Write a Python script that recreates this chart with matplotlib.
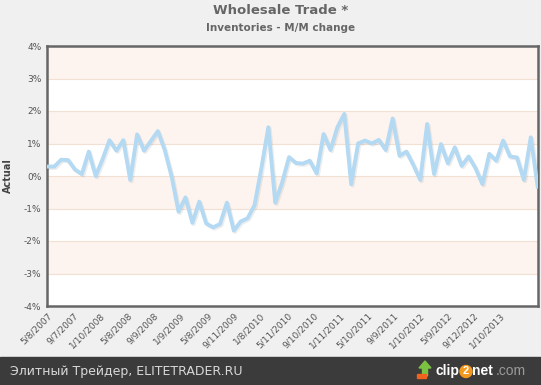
import numpy as np
import matplotlib
matplotlib.use("Agg")
import matplotlib.pyplot as plt
import matplotlib.patheffects as pe
from matplotlib.patches import Ellipse, FancyArrow, Rectangle

# monthly change of inventories, %
values = [0.29, 0.29, 0.50, 0.49, 0.20, 0.06, 0.75, 0.00, 0.52, 1.10,
          0.78, 1.10, -0.12, 1.28, 0.78, 1.08, 1.38, 0.80, -0.02, -1.10,
          -0.66, -1.44, -0.79, -1.46, -1.58, -1.48, -0.82, -1.68, -1.40, -1.30,
          -0.90, 0.25, 1.50, -0.82, -0.20, 0.58, 0.40, 0.38, 0.47, 0.08,
          1.29, 0.80, 1.50, 1.91, -0.25, 1.00, 1.09, 1.00, 1.11, 0.80,
          1.77, 0.62, 0.75, 0.34, -0.12, 1.60, 0.06, 0.98, 0.39, 0.88,
          0.31, 0.60, 0.24, -0.25, 0.68, 0.47, 1.09, 0.60, 0.57, -0.12,
          1.19, -0.33]

date_labels = ["5/8/2007", "9/7/2007", "1/10/2008", "5/8/2008", "9/9/2008",
               "1/9/2009", "5/8/2009", "9/11/2009", "1/8/2010", "5/11/2010",
               "9/10/2010", "1/11/2011", "5/10/2011", "9/9/2011", "1/10/2012",
               "5/9/2012", "9/12/2012", "1/10/2013"]

y_ticks = [4, 3, 2, 1, 0, -1, -2, -3, -4]

W, H = 541, 385
fig = plt.figure(figsize=(W / 100, H / 100), dpi=100)
fig.patch.set_facecolor("#f0f0f0")

ax = fig.add_axes([47 / W, (H - 306) / H, 491 / W, 260 / H])
x = np.arange(len(values))

# alternating bands, pink on top
for lo in range(-4, 4):
    color = "#fdf4ef" if lo % 2 != 0 else "white"
    ax.axhspan(lo, lo + 1, color=color, zorder=0, lw=0)
for t in y_ticks[1:-1]:
    ax.axhline(t, color="#f2e0d2", lw=0.8, zorder=1)

ax.plot(x, values, color="#b3d9f3", lw=2.8, solid_joinstyle="round", zorder=3,
        path_effects=[pe.SimpleLineShadow(offset=(1, -1), alpha=0.1, shadow_color="#555555"),
                      pe.Normal()])

ax.set_xlim(-0.05, len(values) - 1 + 0.05)
ax.set_ylim(-4, 4)
ax.set_yticks(y_ticks)
ax.set_yticklabels([f"{t}%" for t in y_ticks], fontsize=6.5, color="#555555")
ax.tick_params(axis="both", length=0, pad=4)

# label positions along the axis, as the original spaces them
tick_pos = np.linspace(0, 65.6, len(date_labels))
ax.set_xticks(tick_pos)
ax.set_xticklabels(date_labels, rotation=45, ha="right", rotation_mode="anchor",
                   fontsize=6.5, color="#555555")

for s in ax.spines.values():
    s.set_color("#666666")
    s.set_linewidth(1.8)

ax.set_ylabel("Actual", fontsize=7, fontweight="bold", color="#444444", labelpad=8)

fig.text(281 / W, 1 - 11 / H, "Wholesale Trade *", ha="center", va="center",
         fontsize=9.5, fontweight="bold", color="#666666")
fig.text(281 / W, 1 - 28 / H, "Inventories - M/M change", ha="center", va="center",
         fontsize=7.5, fontweight="bold", color="#666666")

# bottom banner
fig.patches.append(Rectangle((0, 0), 1, 28 / H, transform=fig.transFigure,
                             color="#3b3b3b", zorder=0))
fig.text(10 / W, 14 / H, "Элитный Трейдер, ELITETRADER.RU", ha="left", va="center",
         fontsize=9, color="#d8d8d8")

# clip2net logo
fig.patches.append(FancyArrow(425 / W, 9 / H, 0, 8 / H, width=5 / W, head_width=12 / W,
                              head_length=7 / H, transform=fig.transFigure,
                              color="#7cc242", zorder=2))
fig.patches.append(Rectangle((417 / W, 7 / H), 9 / W, 4 / H, transform=fig.transFigure,
                             color="#f0621e", zorder=3))
fig.text(436 / W, 14 / H, "clip", ha="left", va="center", fontsize=10,
         fontweight="bold", color="white", family="Liberation Sans")
fig.patches.append(Ellipse((466 / W, 13.5 / H), 12 / W, 12 / H, transform=fig.transFigure,
                           color="#f39a1e", zorder=2))
fig.text(466 / W, 13.5 / H, "2", ha="center", va="center", fontsize=8,
         fontweight="bold", color="white", zorder=3, family="Liberation Sans")
fig.text(472 / W, 14 / H, "net", ha="left", va="center", fontsize=10,
         fontweight="bold", color="white", family="Liberation Sans")
fig.text(496 / W, 14 / H, ".com", ha="left", va="center", fontsize=10,
         color="#9a9a9a", family="Liberation Sans")

fig.savefig("out.png", dpi=100, facecolor=fig.get_facecolor())
